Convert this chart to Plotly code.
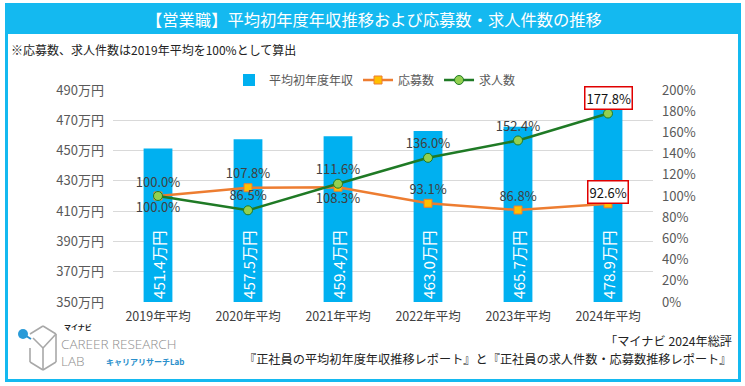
import plotly.graph_objects as go

# ---- data ----
categories = ["2019年平均", "2020年平均", "2021年平均", "2022年平均", "2023年平均", "2024年平均"]
salary = [451.4, 457.5, 459.4, 463.0, 465.7, 478.9]          # 平均初年度年収 (万円)
applicants = [100.0, 107.8, 108.3, 93.1, 86.8, 92.6]         # 応募数 (%)
openings = [100.0, 86.5, 111.6, 136.0, 152.4, 177.8]         # 求人数 (%)
left_ticks = [350, 370, 390, 410, 430, 450, 470, 490]
right_ticks = [0, 20, 40, 60, 80, 100, 120, 140, 160, 180, 200]

W, H = 745, 386
L, R, T, B = 113, 653, 90, 302   # plot area in px

def px(x):
    return (x - L) / (R - L)

def py(y):
    return (B - y) / (B - T)

FONT = "Noto Sans CJK JP"
CYAN = "#14B9F0"
BAR = "#00B0F0"
ORANGE = "#ED7D31"
GREEN = "#1F7A25"

fig = go.Figure()

fig.add_trace(go.Bar(
    x=categories, y=[s - 350 for s in salary], base=350,
    name="平均初年度年収", marker=dict(color=BAR, line=dict(width=0)),
    width=0.32,
    text=[f"{s:.1f}万円" for s in salary],
    textposition="inside", insidetextanchor="start", textangle=-90,
    textfont=dict(color="white", size=16, family=FONT),
    hoverinfo="skip",
))

app_pos = ["top center", "top center", "bottom center", "top center", "top center", "top center"]
fig.add_trace(go.Scatter(
    x=categories, y=applicants, yaxis="y2", name="応募数",
    mode="lines+markers+text",
    line=dict(color=ORANGE, width=2.5),
    marker=dict(symbol="square", size=8, color="#FFC000", line=dict(color=ORANGE, width=1)),
    text=[f"{v:.1f}%" for v in applicants[:-1]] + [""],
    textposition=app_pos,
    textfont=dict(color="#404040", size=13, family=FONT),
))

open_pos = ["bottom center", "top center", "top center", "top center", "top center", "top center"]
fig.add_trace(go.Scatter(
    x=categories, y=openings, yaxis="y2", name="求人数",
    mode="lines+markers+text",
    line=dict(color=GREEN, width=2.5),
    marker=dict(symbol="circle", size=9, color="#92D050", line=dict(color=GREEN, width=1)),
    text=[f"{v:.1f}%" for v in openings[:-1]] + [""],
    textposition=open_pos,
    textfont=dict(color="#404040", size=13, family=FONT),
))

annotations = []
# boxed labels for 2024
annotations.append(dict(x=categories[-1], y=openings[-1], xref="x", yref="y2",
                        text=f"{openings[-1]:.1f}%", showarrow=False, yshift=16,
                        font=dict(size=13, color="#111111", family=FONT),
                        bgcolor="white", bordercolor="#E00000", borderwidth=1.5, borderpad=1))
annotations.append(dict(x=categories[-1], y=applicants[-1], xref="x", yref="y2",
                        text=f"{applicants[-1]:.1f}%", showarrow=False, yshift=12,
                        font=dict(size=13, color="#111111", family=FONT),
                        bgcolor="white", bordercolor="#E00000", borderwidth=1.5, borderpad=1))

# title bar text
annotations.append(dict(x=px(374), y=py(19), xref="paper", yref="paper",
                        text="【営業職】平均初年度年収推移および応募数・求人件数の推移",
                        showarrow=False, xanchor="center", yanchor="middle",
                        font=dict(size=16.3, color="white", family=FONT)))
# subtitle
annotations.append(dict(x=px(9), y=py(49), xref="paper", yref="paper",
                        text="※応募数、求人件数は2019年平均を100%として算出",
                        showarrow=False, xanchor="left", yanchor="middle",
                        font=dict(size=12, color="#222222", family=FONT)))
# footer source
annotations.append(dict(x=px(734), y=py(341), xref="paper", yref="paper",
                        text="「マイナビ 2024年総評", showarrow=False,
                        xanchor="right", yanchor="middle",
                        font=dict(size=12.2, color="#222222", family=FONT)))
annotations.append(dict(x=px(734), y=py(359), xref="paper", yref="paper",
                        text="『正社員の平均初年度年収推移レポート』と『正社員の求人件数・応募数推移レポート』",
                        showarrow=False, xanchor="right", yanchor="middle",
                        font=dict(size=12.2, color="#222222", family=FONT)))
# logo texts
annotations.append(dict(x=px(63), y=py(327), xref="paper", yref="paper",
                        text="<b>マイナビ</b>", showarrow=False, xanchor="left", yanchor="middle",
                        borderpad=0,
                        font=dict(size=7, color="#222222", family=FONT)))
annotations.append(dict(x=px(60), y=py(343.5), xref="paper", yref="paper",
                        text="CAREER RESEARCH", showarrow=False, xanchor="left", yanchor="middle",
                        borderpad=0,
                        font=dict(size=13.5, color="#8E8E8E", family="Open Sans", weight=300)))
annotations.append(dict(x=px(60), y=py(361), xref="paper", yref="paper",
                        text="LAB", showarrow=False, xanchor="left", yanchor="middle",
                        borderpad=0,
                        font=dict(size=13.5, color="#8E8E8E", family="Open Sans", weight=300)))
annotations.append(dict(x=px(104), y=py(361), xref="paper", yref="paper",
                        text="<b>キャリアリサーチLab</b>", showarrow=False, xanchor="left", yanchor="middle",
                        font=dict(size=8, color="#2A8FCB", family=FONT)))

shapes = []
# title bar
shapes.append(dict(type="rect", xref="paper", yref="paper",
                   x0=px(5), x1=px(741), y0=py(34), y1=py(3),
                   fillcolor=CYAN, line=dict(width=0), layer="below"))
# frame lines
for (x0, y0, x1, y1) in [(6.5, 34, 6.5, 380.5), (739.5, 34, 739.5, 380.5), (5, 380.5, 741, 380.5)]:
    shapes.append(dict(type="line", xref="paper", yref="paper",
                       x0=px(x0), x1=px(x1), y0=py(y0), y1=py(y1),
                       line=dict(color=CYAN, width=3)))
# logo cube
cube_lines = [
    (43, 326, 56, 334), (56, 334, 56, 362), (56, 362, 43, 370), (43, 370, 30, 362),
    (30, 362, 30, 348), (30, 334, 43, 326), (43, 348, 56, 334), (43, 348, 43, 370),
    (33, 338, 43, 348),
]
for (x0, y0, x1, y1) in cube_lines:
    shapes.append(dict(type="line", xref="paper", yref="paper",
                       x0=px(x0), x1=px(x1), y0=py(y0), y1=py(y1),
                       line=dict(color="#A8A8A8", width=1.6)))
shapes.append(dict(type="line", xref="paper", yref="paper",
                   x0=px(23), x1=px(31), y0=py(334), y1=py(339),
                   line=dict(color="#2A8FCB", width=2)))
shapes.append(dict(type="circle", xref="paper", yref="paper",
                   x0=px(18), x1=px(28), y0=py(339), y1=py(329),
                   fillcolor="#2A9BD8", line=dict(width=0)))

fig.update_layout(
    width=W, height=H,
    margin=dict(l=L, r=W - R, t=T, b=H - B, pad=0, autoexpand=False),
    paper_bgcolor="white", plot_bgcolor="white",
    font=dict(family=FONT, color="#595959"),
    showlegend=True,
    legend=dict(orientation="h", x=px(375), xanchor="center", y=py(80), yanchor="middle",
                font=dict(size=12, color="#595959", family=FONT),
                bgcolor="rgba(0,0,0,0)", itemwidth=30, tracegroupgap=0),
    bargap=0.68,
    xaxis=dict(type="category", showgrid=False, showline=False, ticks="",
               ticklabelstandoff=5,
               tickfont=dict(size=12.5, color="#404040", family=FONT)),
    yaxis=dict(range=[350, 490], tickvals=left_ticks, ticktext=[f"{v}万円" for v in left_ticks],
               showgrid=True, gridcolor="#D9D9D9", gridwidth=1, zeroline=False,
               showline=False, ticklabelstandoff=8,
               tickfont=dict(size=13, color="#595959", family=FONT)),
    yaxis2=dict(range=[0, 200], tickvals=right_ticks, ticktext=[f"{v}%" for v in right_ticks],
                overlaying="y", side="right", showgrid=False, zeroline=False, showline=False,
                ticklabelstandoff=8,
                tickfont=dict(size=13, color="#595959", family=FONT)),
    annotations=annotations,
    shapes=shapes,
)

fig.write_html("out.html", config={"displayModeBar": False},
               post_script="document.body.style.margin='0';document.body.style.overflow='hidden';")
